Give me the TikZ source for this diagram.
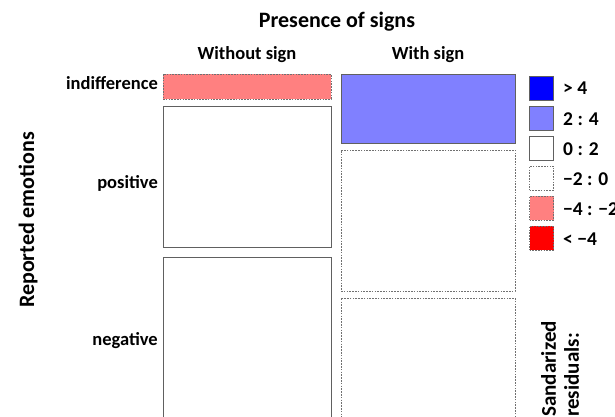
\documentclass[tikz,border=0pt]{standalone}
\usepackage{fontspec}
\setmainfont{Carlito}
\definecolor{pinkres}{HTML}{FF8080}
\definecolor{blueres}{HTML}{8080FF}
\definecolor{redres}{HTML}{FF0000}
\definecolor{bluedeep}{HTML}{0000FF}
\definecolor{edgegray}{HTML}{606060}
\definecolor{dashgray}{HTML}{707070}
\begin{document}
\begin{tikzpicture}[x=1pt,y=-1pt,
  cell/.style={anchor=north west, inner sep=0pt, outer sep=0pt, line width=0.8pt},
  solidcell/.style={cell, draw=edgegray},
  dashcell/.style={cell, draw=dashgray, dash pattern=on 1.6pt off 1.2pt},
  keysq/.style={minimum width=24pt, minimum height=24pt},
  lab/.style={font=\bfseries\fontsize{18.5}{22}\selectfont, inner sep=0pt},
  keylab/.style={font=\bfseries\fontsize{19.5}{22}\selectfont, inner sep=0pt, anchor=base west},
  bigtitle/.style={font=\bfseries\fontsize{22}{26}\selectfont, inner sep=0pt}]
\useasboundingbox (0,0) rectangle (615,417);
\clip (0,0) rectangle (615,417);

% titles
\node[bigtitle, anchor=base] (title) at (337,28) {Presence of signs};
\node[lab, anchor=base] (colwo) at (247,60) {Without sign};
\node[lab, anchor=base] (colw) at (428,60) {With sign};
\node[bigtitle, rotate=90] (ylab) at (28,220) {Reported emotions};

% row labels
\node[lab, anchor=base east] (rind) at (158,90) {indifference};
\node[lab, anchor=base east] (rpos) at (158,188) {positive};
\node[lab, anchor=base east] (rneg) at (158,345) {negative};

% mosaic cells
\node[dashcell, fill=pinkres, minimum width=168pt, minimum height=25pt] (woind) at (163,74) {};
\node[solidcell, fill=white, minimum width=168pt, minimum height=141pt] (wopos) at (163,106) {};
\node[solidcell, fill=white, minimum width=168pt, minimum height=200pt] (woneg) at (163,257) {};
\node[solidcell, fill=blueres, minimum width=174pt, minimum height=69pt] (wind) at (341,74) {};
\node[dashcell, fill=white, minimum width=174pt, minimum height=141pt] (wpos) at (341,150) {};
\node[dashcell, fill=white, minimum width=174pt, minimum height=200pt] (wneg) at (341,298) {};

% legend
\node[solidcell, keysq, fill=bluedeep] (k1) at (529.5,76) {};
\node[solidcell, keysq, fill=blueres] (k2) at (529.5,106) {};
\node[solidcell, keysq, fill=white] (k3) at (529.5,136) {};
\node[dashcell, keysq, fill=white] (k4) at (529.5,166) {};
\node[dashcell, keysq, fill=pinkres] (k5) at (529.5,196) {};
\node[dashcell, keysq, fill=redres] (k6) at (529.5,226) {};
\node[keylab] (t1) at (563,95) {> 4};
\node[keylab] (t2) at (563,125) {2 : 4};
\node[keylab] (t3) at (563,155) {0 : 2};
\node[keylab] (t4) at (563,185) {−2 : 0};
\node[keylab] (t5) at (563,215) {−4 : −2};
\node[keylab] (t6) at (563,245) {< −4};

\node[bigtitle, rotate=90, anchor=north west, align=left, font=\bfseries\fontsize{21}{23}\selectfont] (resid) at (541,417) {Sandarized\\residuals:};
\end{tikzpicture}
\end{document}
